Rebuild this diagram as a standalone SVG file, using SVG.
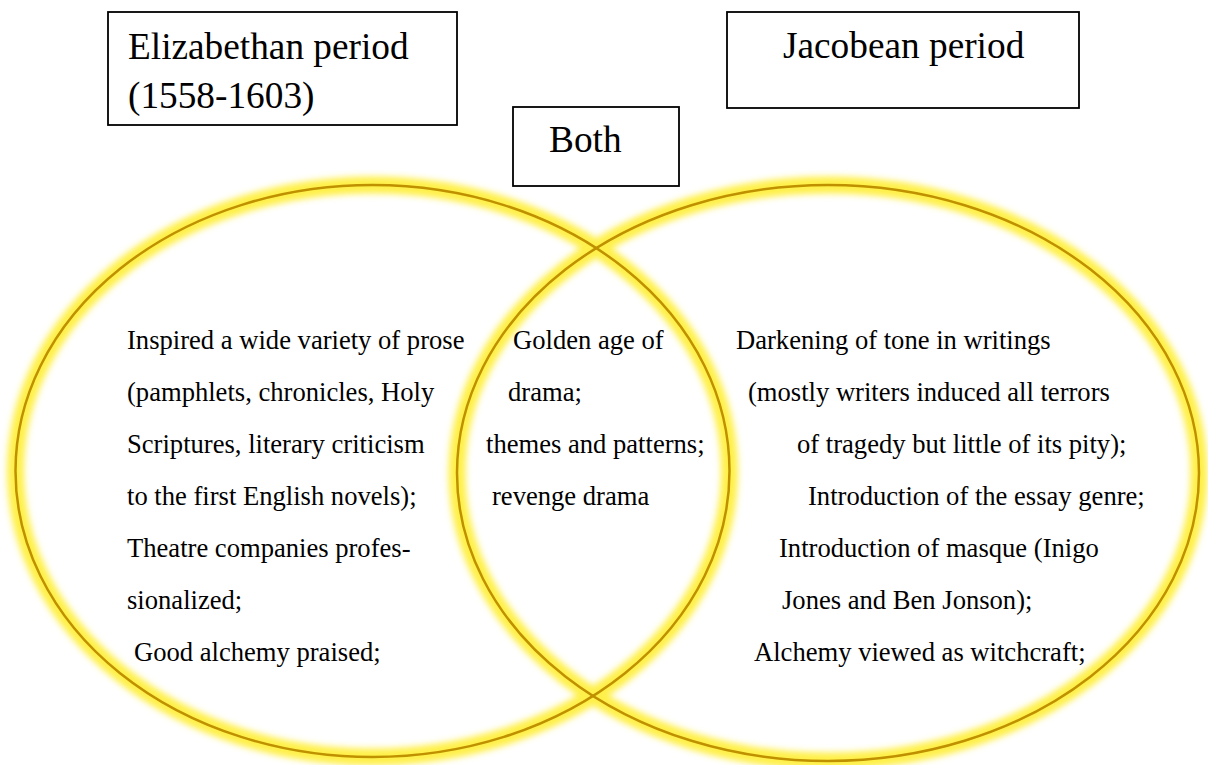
<svg xmlns="http://www.w3.org/2000/svg" width="1208" height="765" viewBox="0 0 1208 765">
<style>
.box{fill:#fff;stroke:#000;stroke-width:1.8}
.title{font-family:"Liberation Serif","Times New Roman",serif;font-size:37.3px;fill:#000}
.body{font-family:"Liberation Serif","Times New Roman",serif;font-size:26.6px;fill:#000;white-space:pre}
.glow{fill:none;stroke:#fff04a;stroke-width:17;opacity:1}
.ring{fill:none;stroke:#bf9000;stroke-width:2.5}
</style>
<defs>
<filter id="blur" x="-10%" y="-10%" width="120%" height="120%">
<feGaussianBlur stdDeviation="3.2"/>
</filter>
</defs>
<rect width="1208" height="765" fill="#fff"/>
<g id="venn">
<g filter="url(#blur)">
<ellipse class="glow" cx="372.5" cy="471" rx="357" ry="286"/>
<ellipse class="glow" cx="828" cy="473" rx="371" ry="288"/>
</g>
<ellipse class="ring" cx="372.5" cy="471" rx="357" ry="286"/>
<ellipse class="ring" cx="828" cy="473" rx="371" ry="288"/>
</g>
<g id="elizabethan-label">
<rect class="box" x="108" y="12" width="349" height="113"/>
<text class="title" x="128" y="59">Elizabethan period</text>
<text class="title" x="128" y="108">(1558-1603)</text>
</g>
<g id="jacobean-label">
<rect class="box" x="727" y="12" width="352" height="96"/>
<text class="title" x="783" y="58">Jacobean period</text>
</g>
<g id="both-label">
<rect class="box" x="513" y="107" width="166" height="79"/>
<text class="title" x="549" y="152">Both</text>
</g>
<g id="elizabethan-content" class="body">
<text x="127" y="349">Inspired a wide variety of prose</text>
<text x="127" y="401">(pamphlets, chronicles, Holy</text>
<text x="127" y="453">Scriptures, literary criticism</text>
<text x="127" y="505">to the first English novels);</text>
<text x="127" y="557">Theatre companies profes-</text>
<text x="127" y="609">sionalized;</text>
<text x="134" y="661">Good alchemy praised;</text>
</g>
<g id="both-content" class="body">
<text x="513" y="349">Golden age of</text>
<text x="508" y="401">drama;</text>
<text x="486" y="453">themes and patterns;</text>
<text x="492" y="505">revenge drama</text>
</g>
<g id="jacobean-content" class="body">
<text x="736" y="349">Darkening of tone in writings</text>
<text x="748" y="401">(mostly writers induced all terrors</text>
<text x="797" y="453">of tragedy but little of its pity);</text>
<text x="808" y="505">Introduction of the essay genre;</text>
<text x="779" y="557">Introduction of masque (Inigo</text>
<text x="782" y="609">Jones and Ben Jonson);</text>
<text x="754" y="661">Alchemy viewed as witchcraft;</text>
</g>
</svg>
